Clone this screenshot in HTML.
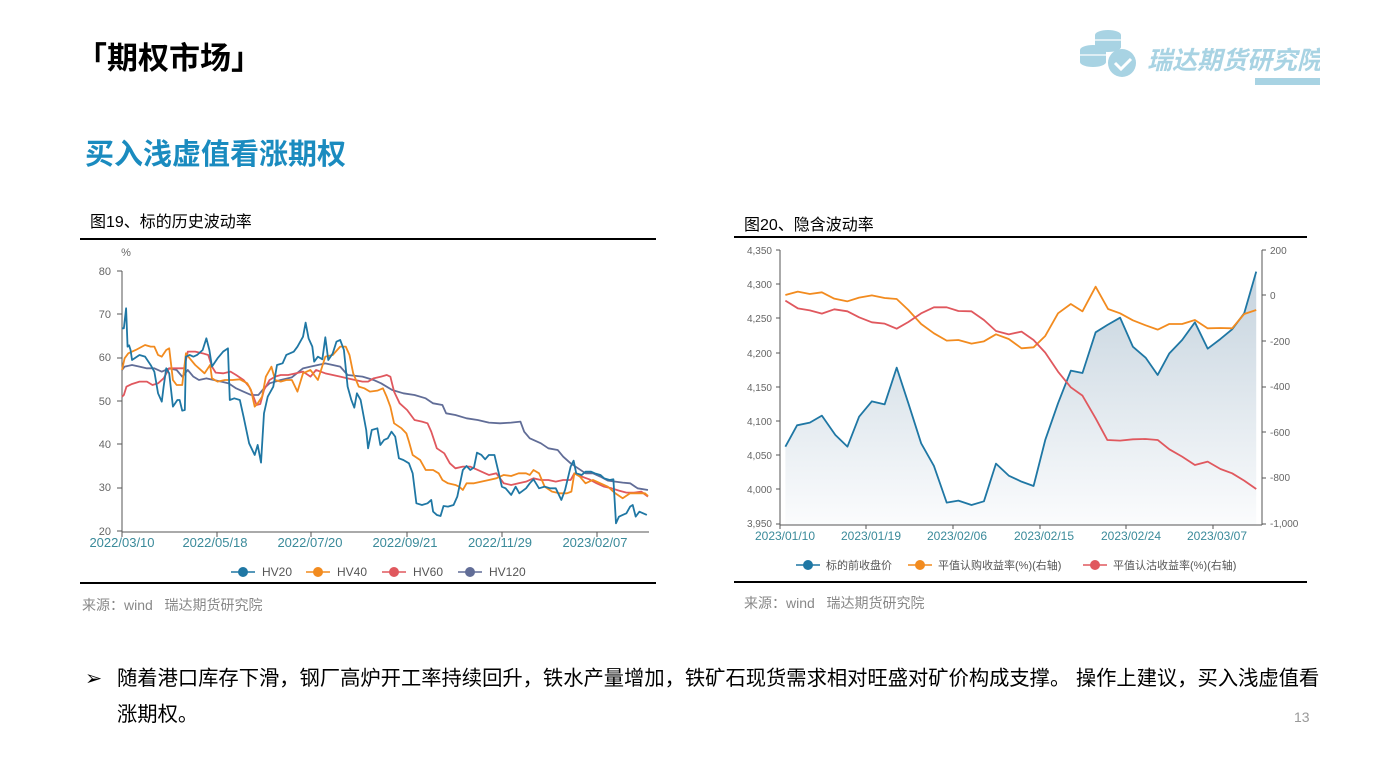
<!DOCTYPE html>
<html><head><meta charset="utf-8"><style>
body{margin:0;width:1387px;height:780px;background:#fff;position:relative;overflow:hidden;font-family:"Liberation Sans","Noto Sans CJK SC",sans-serif}
.a{position:absolute;white-space:nowrap}
</style></head><body>
<div class="a" style="left:76px;top:33px;font-size:31px;font-weight:bold;color:#000">「期权市场」</div>
<div class="a" style="left:85px;top:131px;font-size:29px;font-weight:bold;color:#1a8bbf">买入浅虚值看涨期权</div>
<svg class="a" style="left:1075px;top:25px" width="245" height="65">
<g fill="#a8d3e3"><ellipse cx="33" cy="10" rx="13" ry="5"/><rect x="20" y="10" width="26" height="12"/><ellipse cx="33" cy="22" rx="13" ry="5"/>
<ellipse cx="18" cy="25" rx="13" ry="5"/><rect x="5" y="25" width="26" height="12"/><ellipse cx="18" cy="37" rx="13" ry="5"/>
<circle cx="47" cy="38" r="14"/></g>
<g stroke="#fff" stroke-width="1.2"><line x1="20" y1="15" x2="46" y2="15"/><line x1="5" y1="30" x2="31" y2="30"/></g>
<path d="M40 38 l6 6 l10 -10" stroke="#fff" stroke-width="3" fill="none"/>
<text x="72" y="44" font-size="25" font-weight="bold" font-style="italic" fill="#a8d3e3" font-family="Liberation Sans,Noto Sans CJK SC,sans-serif">瑞达期货研究院</text>
<rect x="180" y="53" width="65" height="7" fill="#a8d3e3"/>
</svg>
<div class="a" style="left:90px;top:208px;font-size:16px;color:#000">图19、标的历史波动率</div>
<div class="a" style="left:744px;top:211px;font-size:16px;color:#000">图20、隐含波动率</div>
<div class="a" style="left:80px;top:238px;width:576px;height:1.5px;background:#000"></div>
<div class="a" style="left:80px;top:582px;width:576px;height:1.5px;background:#000"></div>
<div class="a" style="left:734px;top:236px;width:573px;height:1.5px;background:#000"></div>
<div class="a" style="left:734px;top:581px;width:573px;height:1.5px;background:#000"></div>
<div class="a" style="left:82px;top:595px;font-size:14px;color:#888">来源：wind&nbsp;&nbsp;&nbsp;瑞达期货研究院</div>
<div class="a" style="left:744px;top:593px;font-size:14px;color:#888">来源：wind&nbsp;&nbsp;&nbsp;瑞达期货研究院</div>
<div class="a" style="left:85px;top:661px;font-size:20.3px;color:#000;line-height:36px">➢<span style="position:absolute;left:32px;top:0">随着港口库存下滑，钢厂高炉开工率持续回升，铁水产量增加，铁矿石现货需求相对旺盛对矿价构成支撑。 操作上建议，买入浅虚值看<br>涨期权。</span></div>
<div class="a" style="left:1294px;top:709px;font-size:14px;color:#999">13</div>

<svg class="a" style="left:0;top:0" width="1387" height="780" font-family="Liberation Sans,Noto Sans CJK SC,sans-serif">
<g font-size="11" fill="#666" text-anchor="end">
<text x="126" y="256" text-anchor="middle">%</text>
<text x="111" y="275">80</text><text x="111" y="318">70</text><text x="111" y="361">60</text><text x="111" y="405">50</text><text x="111" y="448">40</text><text x="111" y="491">30</text><text x="111" y="535">20</text>
</g>
<g stroke="#555" stroke-width="1"><line x1="122" y1="271" x2="122" y2="532"/><line x1="122" y1="532" x2="649" y2="532"/>
<line x1="117" y1="271" x2="122" y2="271"/><line x1="117" y1="314" x2="122" y2="314"/><line x1="117" y1="358" x2="122" y2="358"/><line x1="117" y1="401" x2="122" y2="401"/><line x1="117" y1="444" x2="122" y2="444"/><line x1="117" y1="488" x2="122" y2="488"/><line x1="117" y1="531" x2="122" y2="531"/>
<line x1="122" y1="532" x2="122" y2="537"/><line x1="217" y1="532" x2="217" y2="537"/><line x1="311" y1="532" x2="311" y2="537"/><line x1="407" y1="532" x2="407" y2="537"/><line x1="502" y1="532" x2="502" y2="537"/><line x1="597" y1="532" x2="597" y2="537"/></g>
<g font-size="13" fill="#3a8a9a" text-anchor="middle"><text x="122" y="547">2022/03/10</text><text x="215" y="547">2022/05/18</text><text x="310" y="547">2022/07/20</text><text x="405" y="547">2022/09/21</text><text x="500" y="547">2022/11/29</text><text x="595" y="547">2023/02/07</text></g>
<g transform="translate(80,240) scale(0.3717,0.3333)" fill="none" stroke-width="1.8" stroke-linejoin="round">
<polyline vector-effect="non-scaling-stroke" stroke="#616d97" points="113,390 120,380 140,375 160,380 180,385 200,385 220,395 240,385 260,390 275,410 290,390 305,410 320,420 340,415 360,420 380,425 400,430 420,445 440,455 460,465 480,465 495,445 510,430 540,420 570,412 600,385 620,380 660,370 680,375 700,380 720,405 760,410 790,420 810,430 840,450 870,460 900,465 930,475 950,490 975,495 985,520 1010,525 1040,535 1070,540 1100,548 1130,550 1160,548 1185,545 1195,575 1210,595 1240,610 1260,625 1285,630 1300,650 1320,670 1340,685 1360,700 1380,700 1400,710 1420,722 1440,725 1460,728 1480,730 1500,745 1528,750"/>
<polyline vector-effect="non-scaling-stroke" stroke="#e0585e" points="113,470 118,465 125,440 140,432 160,425 180,425 195,435 210,430 225,415 240,385 260,385 280,385 290,335 310,335 330,340 345,345 355,380 365,398 385,400 405,395 420,405 440,420 455,440 465,465 475,495 485,492 495,450 510,420 525,410 540,405 560,405 580,400 600,395 620,410 635,390 660,400 680,405 700,410 720,415 740,420 760,425 775,425 790,415 810,410 825,405 835,410 845,455 860,490 880,510 900,540 920,545 935,550 945,575 960,625 980,640 995,670 1010,685 1030,680 1050,680 1070,690 1090,700 1100,705 1120,700 1140,730 1160,735 1180,730 1200,725 1220,715 1240,720 1260,720 1280,725 1300,720 1320,720 1330,700 1350,710 1370,718 1390,730 1410,740 1430,745 1450,752 1470,758 1490,758 1510,755 1528,770"/>
<polyline vector-effect="non-scaling-stroke" stroke="#f28b1f" points="113,390 120,355 130,340 150,330 175,315 190,320 200,320 210,345 220,350 232,330 240,325 250,420 260,435 275,435 285,340 295,355 310,375 320,385 335,400 350,375 355,415 370,425 390,420 410,420 430,418 450,430 460,450 470,500 478,490 490,470 500,410 515,380 525,420 540,425 555,420 570,420 585,455 600,400 620,390 640,420 660,350 680,345 700,320 715,320 725,345 735,400 750,440 765,445 780,455 800,452 815,445 825,470 835,500 845,550 865,565 878,580 885,605 895,645 915,660 930,690 950,690 965,700 975,720 990,730 1010,735 1020,740 1030,750 1040,730 1060,730 1080,725 1100,720 1120,715 1140,705 1160,708 1180,700 1200,700 1210,705 1220,690 1235,700 1250,740 1270,755 1290,760 1310,760 1322,755 1330,700 1345,710 1360,730 1380,720 1400,730 1420,740 1440,760 1460,775 1480,760 1500,760 1520,760 1528,768"/>
<polyline vector-effect="non-scaling-stroke" stroke="#1f77a4" points="113,265 118,265 124,205 128,320 132,316 136,330 140,360 160,345 175,350 190,375 200,395 210,460 220,485 225,440 232,385 240,400 250,500 262,480 268,480 275,512 282,510 285,350 295,345 305,350 315,345 330,330 340,295 348,330 355,380 370,355 385,335 398,325 403,480 415,475 430,480 440,530 455,610 470,645 478,615 487,668 495,520 505,470 520,440 530,375 545,370 555,345 575,335 585,320 600,290 607,248 615,295 625,320 630,365 640,350 652,358 660,292 668,360 680,340 690,305 700,300 710,330 720,440 730,480 738,503 745,460 755,480 765,540 770,570 775,625 785,570 800,565 808,615 818,600 828,595 838,575 848,590 858,655 870,660 885,670 895,700 905,790 920,795 935,790 945,780 950,815 960,825 970,828 978,798 990,800 1005,795 1015,770 1030,690 1040,678 1050,690 1060,682 1068,638 1080,645 1090,658 1100,645 1115,645 1125,692 1135,740 1145,745 1160,765 1172,740 1182,760 1200,745 1210,730 1220,718 1235,745 1250,740 1265,745 1280,745 1295,780 1305,750 1320,680 1328,662 1335,700 1350,705 1360,695 1375,695 1385,700 1400,705 1410,715 1425,720 1435,718 1442,850 1450,830 1460,825 1470,820 1480,800 1487,795 1495,830 1505,815 1515,820 1525,825"/>
</g>
<g font-size="12" fill="#555">
<line x1="231" y1="572" x2="255" y2="572" stroke="#1f77a4" stroke-width="1.5"/><circle cx="243" cy="572" r="5" fill="#1f77a4"/><text x="262" y="576">HV20</text>
<line x1="306" y1="572" x2="330" y2="572" stroke="#f28b1f" stroke-width="1.5"/><circle cx="318" cy="572" r="5" fill="#f28b1f"/><text x="337" y="576">HV40</text>
<line x1="382" y1="572" x2="406" y2="572" stroke="#e0585e" stroke-width="1.5"/><circle cx="394" cy="572" r="5" fill="#e0585e"/><text x="413" y="576">HV60</text>
<line x1="458" y1="572" x2="482" y2="572" stroke="#616d97" stroke-width="1.5"/><circle cx="470" cy="572" r="5" fill="#616d97"/><text x="489" y="576">HV120</text>
</g>

<defs><linearGradient id="g" x1="0" y1="0" x2="0" y2="1"><stop offset="0" stop-color="#c5d3de"/><stop offset="1" stop-color="#fbfcfd"/></linearGradient></defs>
<g font-size="10" fill="#666" text-anchor="end">
<text x="772" y="254">4,350</text><text x="772" y="288">4,300</text><text x="772" y="322">4,250</text><text x="772" y="357">4,200</text><text x="772" y="391">4,150</text><text x="772" y="425">4,100</text><text x="772" y="459">4,050</text><text x="772" y="493">4,000</text><text x="772" y="527">3,950</text>
</g>
<g font-size="10" fill="#666" text-anchor="start">
<text x="1270" y="254">200</text><text x="1270" y="299">0</text><text x="1270" y="345">-200</text><text x="1270" y="390">-400</text><text x="1270" y="436">-600</text><text x="1270" y="481">-800</text><text x="1270" y="527">-1,000</text>
</g>
<g transform="translate(735,240) scale(0.365,0.3333)">
<polygon fill="url(#g)" points="138,855 138,620 170,556 205,548 238,527 275,585 308,620 340,530 375,484 410,493 443,383 475,490 510,610 545,678 580,788 612,782 648,795 682,784 715,671 750,707 785,725 818,738 850,600 885,490 920,392 952,399 988,277 1020,255 1055,233 1090,320 1125,353 1158,405 1190,340 1225,300 1260,247 1295,326 1330,297 1362,268 1395,220 1428,95 1428,855"/>
<g fill="none" stroke-width="1.8" stroke-linejoin="round">
<polyline vector-effect="non-scaling-stroke" stroke="#1f77a4" points="138,620 170,556 205,548 238,527 275,585 308,620 340,530 375,484 410,493 443,383 475,490 510,610 545,678 580,788 612,782 648,795 682,784 715,671 750,707 785,725 818,738 850,600 885,490 920,392 952,399 988,277 1020,255 1055,233 1090,320 1125,353 1158,405 1190,340 1225,300 1260,247 1295,326 1330,297 1362,268 1395,220 1428,95"/>
<polyline vector-effect="non-scaling-stroke" stroke="#f28b1f" points="138,165 172,155 205,162 238,157 272,176 308,184 340,173 375,166 410,174 443,177 475,210 510,252 545,280 580,302 612,300 648,311 682,304 715,283 750,297 785,325 818,322 850,288 885,220 920,192 952,214 988,140 1022,207 1055,220 1090,241 1125,256 1158,269 1190,252 1225,252 1260,240 1295,265 1330,264 1362,265 1395,222 1428,210"/>
<polyline vector-effect="non-scaling-stroke" stroke="#e0585e" points="138,182 172,205 205,211 238,221 272,208 308,214 340,232 375,247 410,251 443,266 475,246 510,220 545,202 580,202 612,213 648,214 682,240 715,273 750,283 785,275 818,300 850,338 885,395 920,442 952,467 988,535 1020,600 1055,602 1090,598 1125,597 1158,600 1190,628 1225,650 1260,675 1295,665 1330,687 1362,700 1395,722 1428,747"/>
</g></g>
<g stroke="#555" stroke-width="1"><line x1="780" y1="250" x2="780" y2="525"/><line x1="780" y1="525" x2="1262" y2="525"/><line x1="1262" y1="250" x2="1262" y2="525"/>
<line x1="776" y1="250" x2="780" y2="250"/><line x1="776" y1="284" x2="780" y2="284"/><line x1="776" y1="318" x2="780" y2="318"/><line x1="776" y1="353" x2="780" y2="353"/><line x1="776" y1="387" x2="780" y2="387"/><line x1="776" y1="421" x2="780" y2="421"/><line x1="776" y1="455" x2="780" y2="455"/><line x1="776" y1="489" x2="780" y2="489"/><line x1="776" y1="524" x2="780" y2="524"/>
<line x1="1262" y1="250" x2="1266" y2="250"/><line x1="1262" y1="295" x2="1266" y2="295"/><line x1="1262" y1="341" x2="1266" y2="341"/><line x1="1262" y1="387" x2="1266" y2="387"/><line x1="1262" y1="432" x2="1266" y2="432"/><line x1="1262" y1="478" x2="1266" y2="478"/><line x1="1262" y1="524" x2="1266" y2="524"/>
<line x1="780" y1="525" x2="780" y2="529"/><line x1="866" y1="525" x2="866" y2="529"/><line x1="953" y1="525" x2="953" y2="529"/><line x1="1040" y1="525" x2="1040" y2="529"/><line x1="1126" y1="525" x2="1126" y2="529"/><line x1="1213" y1="525" x2="1213" y2="529"/></g>
<g font-size="12" fill="#3a8a9a" text-anchor="middle"><text x="785" y="540">2023/01/10</text><text x="871" y="540">2023/01/19</text><text x="957" y="540">2023/02/06</text><text x="1044" y="540">2023/02/15</text><text x="1131" y="540">2023/02/24</text><text x="1217" y="540">2023/03/07</text></g>
<g font-size="11" fill="#555">
<line x1="796" y1="565" x2="820" y2="565" stroke="#1f77a4" stroke-width="1.5"/><circle cx="808" cy="565" r="5" fill="#1f77a4"/><text x="826" y="569">标的前收盘价</text>
<line x1="908" y1="565" x2="932" y2="565" stroke="#f28b1f" stroke-width="1.5"/><circle cx="920" cy="565" r="5" fill="#f28b1f"/><text x="938" y="569">平值认购收益率(%)(右轴)</text>
<line x1="1083" y1="565" x2="1107" y2="565" stroke="#e0585e" stroke-width="1.5"/><circle cx="1095" cy="565" r="5" fill="#e0585e"/><text x="1113" y="569">平值认沽收益率(%)(右轴)</text>
</g>
</svg>
</body></html>
